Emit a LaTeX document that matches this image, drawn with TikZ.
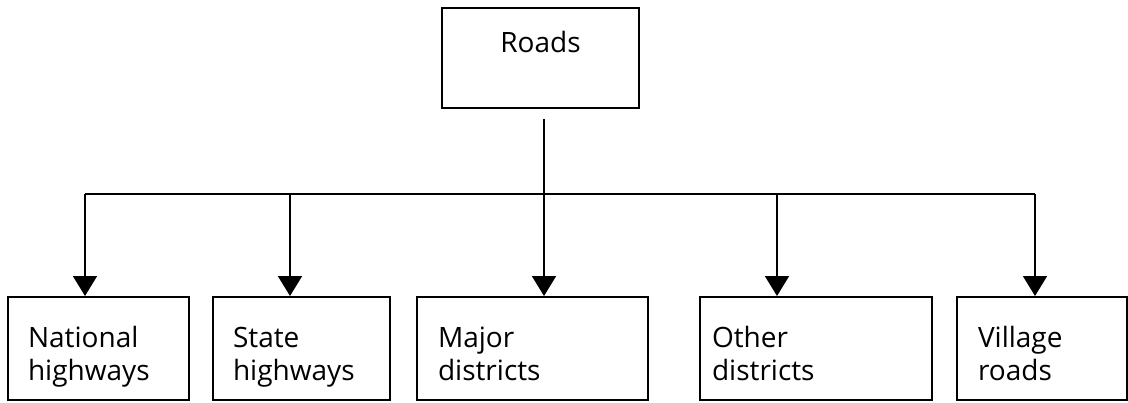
\documentclass[tikz,border=0pt]{standalone}
\usepackage{fontspec}
\setmainfont{Open Sans}
\usetikzlibrary{arrows.meta}

\tikzset{
	box/.style={draw=black, line width=1pt, rectangle, inner ysep=0pt, font=\fontsize{14}{16.5}\selectfont},
	arr/.style={-{Triangle[width=12pt,length=10pt]}, line width=0.9pt},
}

\begin{document}
\begin{tikzpicture}[x=0.5pt, y=-0.5pt]
\useasboundingbox (0,0) rectangle (1128,402);

\def\busy{194}
\def\rowy{348.5}

\node[box, minimum width=98.5pt, minimum height=50pt, align=center] (roads) at (540.5,58) {Roads\\\phantom{R}};

% lower boxes: name / centre x / width (pt) / arrow x / padding (pt) / text
\foreach \nm/\x/\w/\ax/\pad/\first/\second in {
	nat/98.5/90.5/85/10/National/highways,
	sta/301.5/88.5/290/10/State/highways,
	maj/532.5/115.5/544/10.5/Major/districts,
	oth/816/116/777/6/Other/districts,
	vil/1042/85/1035/10.5/Village/roads} {
	\pgfmathsetmacro\tw{\w-2*\pad}
	\node[box, minimum width=\w pt, minimum height=51.5pt, inner xsep=\pad pt, text width=\tw pt, align=left] (\nm) at (\x,\rowy) {\rule{0pt}{19pt}\first\\\second\rule[-4pt]{0pt}{4pt}};
	\coordinate (a\nm) at (\ax,\busy);
	\draw[arr] (a\nm) -- (a\nm |- \nm.north);
}

\draw[line width=0.9pt] (anat) -- (avil); % bus
\draw[line width=0.9pt] ([yshift=-5pt]roads.south -| amaj) -- (amaj);

\end{tikzpicture}
\end{document}
